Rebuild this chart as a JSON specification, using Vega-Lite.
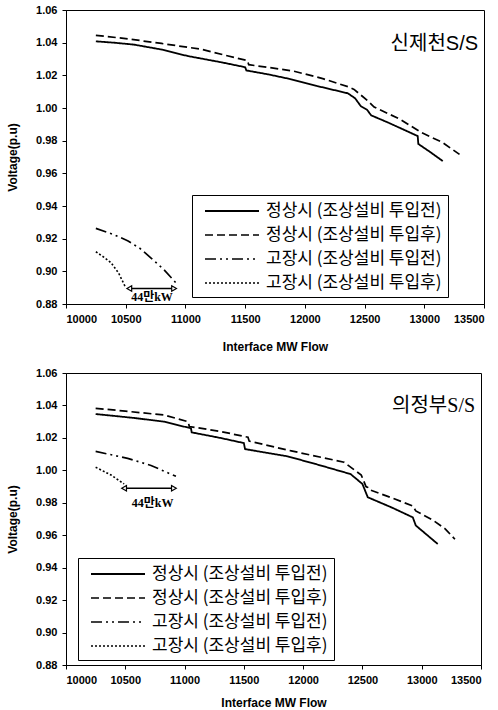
{
  "$schema": "https://vega.github.io/schema/vega-lite/v6.json",
  "padding": {"left": 6, "top": 3, "right": 5, "bottom": 3},
  "background": "white",
  "spacing": 13,
  "config": {
    "view": {"stroke": "black", "strokeWidth": 1},
    "axis": {"labelFont": "Liberation Sans", "labelFontWeight": "bold", "labelFontSize": 11, "titleFont": "Liberation Sans", "titleFontWeight": "bold", "titleFontSize": 12, "domainColor": "black", "tickColor": "black", "labelColor": "black", "titleColor": "black", "grid": false, "tickSize": 4, "labelPadding": 5, "labelOverlap": false},
    "legend": {"labelFont": "Noto Sans CJK KR", "labelFontSize": 17, "labelColor": "black", "symbolSize": 324, "symbolType": "M-3,0H3", "symbolStrokeColor": "black", "strokeColor": "black", "fillColor": "white", "padding": 6, "rowPadding": 6, "symbolOffset": 24, "labelOffset": 24, "labelLimit": 400, "labelExpr": "replace(datum.label, ' 투', '\u00a0\u00a0투')"}
  },
  "datasets": {
    "curves": [
      {"panel": "A", "series": "정상시 (조상설비 투입전)", "x": 10250, "y": 1.0408},
      {"panel": "A", "series": "정상시 (조상설비 투입전)", "x": 10400, "y": 1.0400},
      {"panel": "A", "series": "정상시 (조상설비 투입전)", "x": 10570, "y": 1.0388},
      {"panel": "A", "series": "정상시 (조상설비 투입전)", "x": 10800, "y": 1.0358},
      {"panel": "A", "series": "정상시 (조상설비 투입전)", "x": 11020, "y": 1.0318},
      {"panel": "A", "series": "정상시 (조상설비 투입전)", "x": 11300, "y": 1.0280},
      {"panel": "A", "series": "정상시 (조상설비 투입전)", "x": 11500, "y": 1.0250},
      {"panel": "A", "series": "정상시 (조상설비 투입전)", "x": 11510, "y": 1.0230},
      {"panel": "A", "series": "정상시 (조상설비 투입전)", "x": 11700, "y": 1.0205},
      {"panel": "A", "series": "정상시 (조상설비 투입전)", "x": 11885, "y": 1.0176},
      {"panel": "A", "series": "정상시 (조상설비 투입전)", "x": 12100, "y": 1.0135},
      {"panel": "A", "series": "정상시 (조상설비 투입전)", "x": 12360, "y": 1.0090},
      {"panel": "A", "series": "정상시 (조상설비 투입전)", "x": 12420, "y": 1.0060},
      {"panel": "A", "series": "정상시 (조상설비 투입전)", "x": 12470, "y": 1.0010},
      {"panel": "A", "series": "정상시 (조상설비 투입전)", "x": 12520, "y": 0.9990},
      {"panel": "A", "series": "정상시 (조상설비 투입전)", "x": 12555, "y": 0.9955},
      {"panel": "A", "series": "정상시 (조상설비 투입전)", "x": 12700, "y": 0.9910},
      {"panel": "A", "series": "정상시 (조상설비 투입전)", "x": 12945, "y": 0.9828},
      {"panel": "A", "series": "정상시 (조상설비 투입전)", "x": 12950, "y": 0.9780},
      {"panel": "A", "series": "정상시 (조상설비 투입전)", "x": 13050, "y": 0.9730},
      {"panel": "A", "series": "정상시 (조상설비 투입전)", "x": 13155, "y": 0.9675},
      {"panel": "A", "series": "정상시 (조상설비 투입후)", "x": 10250, "y": 1.0445},
      {"panel": "A", "series": "정상시 (조상설비 투입후)", "x": 10500, "y": 1.0425},
      {"panel": "A", "series": "정상시 (조상설비 투입후)", "x": 10800, "y": 1.0395},
      {"panel": "A", "series": "정상시 (조상설비 투입후)", "x": 11130, "y": 1.0360},
      {"panel": "A", "series": "정상시 (조상설비 투입후)", "x": 11350, "y": 1.0320},
      {"panel": "A", "series": "정상시 (조상설비 투입후)", "x": 11520, "y": 1.0290},
      {"panel": "A", "series": "정상시 (조상설비 투입후)", "x": 11530, "y": 1.0265},
      {"panel": "A", "series": "정상시 (조상설비 투입후)", "x": 11700, "y": 1.0248},
      {"panel": "A", "series": "정상시 (조상설비 투입후)", "x": 11910, "y": 1.0225},
      {"panel": "A", "series": "정상시 (조상설비 투입후)", "x": 12150, "y": 1.0180},
      {"panel": "A", "series": "정상시 (조상설비 투입후)", "x": 12370, "y": 1.0128},
      {"panel": "A", "series": "정상시 (조상설비 투입후)", "x": 12412, "y": 1.0114},
      {"panel": "A", "series": "정상시 (조상설비 투입후)", "x": 12528, "y": 1.0043},
      {"panel": "A", "series": "정상시 (조상설비 투입후)", "x": 12580, "y": 1.0006},
      {"panel": "A", "series": "정상시 (조상설비 투입후)", "x": 12800, "y": 0.9930},
      {"panel": "A", "series": "정상시 (조상설비 투입후)", "x": 12975, "y": 0.9850},
      {"panel": "A", "series": "정상시 (조상설비 투입후)", "x": 13150, "y": 0.9790},
      {"panel": "A", "series": "정상시 (조상설비 투입후)", "x": 13295, "y": 0.9716},
      {"panel": "A", "series": "고장시 (조상설비 투입전)", "x": 10250, "y": 0.9263},
      {"panel": "A", "series": "고장시 (조상설비 투입전)", "x": 10400, "y": 0.9225},
      {"panel": "A", "series": "고장시 (조상설비 투입전)", "x": 10520, "y": 0.9186},
      {"panel": "A", "series": "고장시 (조상설비 투입전)", "x": 10620, "y": 0.9140},
      {"panel": "A", "series": "고장시 (조상설비 투입전)", "x": 10710, "y": 0.9083},
      {"panel": "A", "series": "고장시 (조상설비 투입전)", "x": 10820, "y": 0.9010},
      {"panel": "A", "series": "고장시 (조상설비 투입전)", "x": 10920, "y": 0.8930},
      {"panel": "A", "series": "고장시 (조상설비 투입후)", "x": 10250, "y": 0.9120},
      {"panel": "A", "series": "고장시 (조상설비 투입후)", "x": 10320, "y": 0.9085},
      {"panel": "A", "series": "고장시 (조상설비 투입후)", "x": 10377, "y": 0.9053},
      {"panel": "A", "series": "고장시 (조상설비 투입후)", "x": 10440, "y": 0.8990},
      {"panel": "A", "series": "고장시 (조상설비 투입후)", "x": 10500, "y": 0.8900},
      {"panel": "B", "series": "정상시 (조상설비 투입전)", "x": 10250, "y": 1.0347},
      {"panel": "B", "series": "정상시 (조상설비 투입전)", "x": 10573, "y": 1.0323},
      {"panel": "B", "series": "정상시 (조상설비 투입전)", "x": 10826, "y": 1.0300},
      {"panel": "B", "series": "정상시 (조상설비 투입전)", "x": 11054, "y": 1.0259},
      {"panel": "B", "series": "정상시 (조상설비 투입전)", "x": 11060, "y": 1.0234},
      {"panel": "B", "series": "정상시 (조상설비 투입전)", "x": 11300, "y": 1.0200},
      {"panel": "B", "series": "정상시 (조상설비 투입전)", "x": 11500, "y": 1.0168},
      {"panel": "B", "series": "정상시 (조상설비 투입전)", "x": 11510, "y": 1.0131},
      {"panel": "B", "series": "정상시 (조상설비 투입전)", "x": 11870, "y": 1.0086},
      {"panel": "B", "series": "정상시 (조상설비 투입전)", "x": 12100, "y": 1.0040},
      {"panel": "B", "series": "정상시 (조상설비 투입전)", "x": 12400, "y": 0.9977},
      {"panel": "B", "series": "정상시 (조상설비 투입전)", "x": 12500, "y": 0.9916},
      {"panel": "B", "series": "정상시 (조상설비 투입전)", "x": 12545, "y": 0.9834},
      {"panel": "B", "series": "정상시 (조상설비 투입전)", "x": 12750, "y": 0.9770},
      {"panel": "B", "series": "정상시 (조상설비 투입전)", "x": 12925, "y": 0.9710},
      {"panel": "B", "series": "정상시 (조상설비 투입전)", "x": 12950, "y": 0.9660},
      {"panel": "B", "series": "정상시 (조상설비 투입전)", "x": 13135, "y": 0.9546},
      {"panel": "B", "series": "정상시 (조상설비 투입후)", "x": 10250, "y": 1.0382},
      {"panel": "B", "series": "정상시 (조상설비 투입후)", "x": 10500, "y": 1.0365},
      {"panel": "B", "series": "정상시 (조상설비 투입후)", "x": 10826, "y": 1.0341},
      {"panel": "B", "series": "정상시 (조상설비 투입후)", "x": 11030, "y": 1.0300},
      {"panel": "B", "series": "정상시 (조상설비 투입후)", "x": 11040, "y": 1.0270},
      {"panel": "B", "series": "정상시 (조상설비 투입후)", "x": 11300, "y": 1.0240},
      {"panel": "B", "series": "정상시 (조상설비 투입후)", "x": 11535, "y": 1.0204},
      {"panel": "B", "series": "정상시 (조상설비 투입후)", "x": 11545, "y": 1.0180},
      {"panel": "B", "series": "정상시 (조상설비 투입후)", "x": 11900, "y": 1.0120},
      {"panel": "B", "series": "정상시 (조상설비 투입후)", "x": 12345, "y": 1.0050},
      {"panel": "B", "series": "정상시 (조상설비 투입후)", "x": 12490, "y": 0.9971},
      {"panel": "B", "series": "정상시 (조상설비 투입후)", "x": 12530, "y": 0.9900},
      {"panel": "B", "series": "정상시 (조상설비 투입후)", "x": 12545, "y": 0.9895},
      {"panel": "B", "series": "정상시 (조상설비 투입후)", "x": 12560, "y": 0.9880},
      {"panel": "B", "series": "정상시 (조상설비 투입후)", "x": 12750, "y": 0.9830},
      {"panel": "B", "series": "정상시 (조상설비 투입후)", "x": 12925, "y": 0.9780},
      {"panel": "B", "series": "정상시 (조상설비 투입후)", "x": 12950, "y": 0.9750},
      {"panel": "B", "series": "정상시 (조상설비 투입후)", "x": 13100, "y": 0.9690},
      {"panel": "B", "series": "정상시 (조상설비 투입후)", "x": 13200, "y": 0.9638},
      {"panel": "B", "series": "정상시 (조상설비 투입후)", "x": 13280, "y": 0.9575},
      {"panel": "B", "series": "고장시 (조상설비 투입전)", "x": 10250, "y": 1.0117},
      {"panel": "B", "series": "고장시 (조상설비 투입전)", "x": 10520, "y": 1.0074},
      {"panel": "B", "series": "고장시 (조상설비 투입전)", "x": 10717, "y": 1.0030},
      {"panel": "B", "series": "고장시 (조상설비 투입전)", "x": 10927, "y": 0.9963},
      {"panel": "B", "series": "고장시 (조상설비 투입후)", "x": 10250, "y": 1.0019},
      {"panel": "B", "series": "고장시 (조상설비 투입후)", "x": 10380, "y": 0.9971},
      {"panel": "B", "series": "고장시 (조상설비 투입후)", "x": 10490, "y": 0.9916}
    ],
    "titles": [
      {"panel": "A", "x": 13450, "y": 1.039, "label": "신제천S/S"},
      {"panel": "B", "x": 13450, "y": 1.0395, "label": "의정부S/S"}
    ],
    "arrows": [
      {"panel": "A", "x1": 10530, "x2": 10905, "y": 0.8895, "ly": 0.8845, "lx": 10720, "label": "44만kW"},
      {"panel": "B", "x1": 10490, "x2": 10910, "y": 0.989, "ly": 0.980, "lx": 10730, "label": "44만kW"}
    ]
  },
  "vconcat": [
    {
      "width": 418, "height": 294,
      "layer": [
        {
          "data": {"name": "curves"},
          "transform": [{"filter": "datum.panel === 'A'"}],
          "mark": {"type": "line", "color": "black", "clip": true},
          "encoding": {
            "x": {"field": "x", "type": "quantitative", "scale": {"domain": [10000, 13500], "nice": false, "zero": false}, "axis": {"title": "Interface MW Flow", "values": [10000, 10500, 11000, 11500, 12000, 12500, 13000, 13500], "tickCount": 12, "format": "d", "titlePadding": 17, "labelOverlap": false}},
            "y": {"field": "y", "type": "quantitative", "scale": {"domain": [0.88, 1.06], "nice": false, "zero": false}, "axis": {"title": "Voltage(p.u)", "values": [0.88, 0.9, 0.92, 0.94, 0.96, 0.98, 1.0, 1.02, 1.04, 1.06], "tickCount": 12, "format": ".2f", "titlePadding": 16, "labelOverlap": false}},
            "detail": {"field": "series"},
            "strokeDash": {"field": "series", "type": "nominal", "scale": {"domain": ["정상시 (조상설비 투입전)", "정상시 (조상설비 투입후)", "고장시 (조상설비 투입전)", "고장시 (조상설비 투입후)"], "range": [[1, 0], [8, 4], [11, 4, 2, 4, 2, 4], [2, 2]]}, "legend": {"title": null, "orient": "none", "legendX": 126, "legendY": 185}},
            "strokeWidth": {"field": "series", "type": "nominal", "scale": {"domain": ["정상시 (조상설비 투입전)", "정상시 (조상설비 투입후)", "고장시 (조상설비 투입전)", "고장시 (조상설비 투입후)"], "range": [1.8, 1.6, 1.5, 1]}, "legend": {"title": null, "orient": "none", "legendX": 126, "legendY": 185}}
          }
        },
        {
          "data": {"name": "titles"},
          "transform": [{"filter": "datum.panel === 'A'"}],
          "mark": {"type": "text", "align": "right", "baseline": "middle", "font": "Liberation Sans, Noto Sans CJK KR", "fontSize": 20, "color": "black"},
          "encoding": {"x": {"field": "x", "type": "quantitative"}, "y": {"field": "y", "type": "quantitative"}, "text": {"field": "label"}}
        },
        {
          "data": {"name": "arrows"},
          "transform": [{"filter": "datum.panel === 'A'"}],
          "mark": {"type": "rule", "color": "black", "strokeWidth": 1.5},
          "encoding": {"x": {"field": "x1", "type": "quantitative"}, "x2": {"field": "x2"}, "y": {"field": "y", "type": "quantitative"}}
        },
        {
          "data": {"name": "arrows"},
          "transform": [{"filter": "datum.panel === 'A'"}],
          "mark": {"type": "point", "shape": "triangle-left", "filled": true, "fill": "white", "stroke": "black", "strokeWidth": 1.2, "size": 30, "opacity": 1},
          "encoding": {"x": {"field": "x1", "type": "quantitative"}, "y": {"field": "y", "type": "quantitative"}}
        },
        {
          "data": {"name": "arrows"},
          "transform": [{"filter": "datum.panel === 'A'"}],
          "mark": {"type": "point", "shape": "triangle-right", "filled": true, "fill": "white", "stroke": "black", "strokeWidth": 1.2, "size": 30, "opacity": 1},
          "encoding": {"x": {"field": "x2", "type": "quantitative"}, "y": {"field": "y", "type": "quantitative"}}
        },
        {
          "data": {"name": "arrows"},
          "transform": [{"filter": "datum.panel === 'A'"}],
          "mark": {"type": "text", "align": "center", "baseline": "middle", "font": "Liberation Serif, Noto Sans CJK KR", "fontSize": 12, "fontWeight": "bold", "color": "black"},
          "encoding": {"x": {"field": "lx", "type": "quantitative"}, "y": {"field": "ly", "type": "quantitative"}, "text": {"field": "label"}}
        }
      ]
    },
    {
      "width": 415, "height": 292,
      "layer": [
        {
          "data": {"name": "curves"},
          "transform": [{"filter": "datum.panel === 'B'"}],
          "mark": {"type": "line", "color": "black", "clip": true},
          "encoding": {
            "x": {"field": "x", "type": "quantitative", "scale": {"domain": [10000, 13500], "nice": false, "zero": false}, "axis": {"title": "Interface MW Flow", "values": [10000, 10500, 11000, 11500, 12000, 12500, 13000, 13500], "tickCount": 12, "format": "d", "titlePadding": 12, "labelOverlap": false}},
            "y": {"field": "y", "type": "quantitative", "scale": {"domain": [0.88, 1.06], "nice": false, "zero": false}, "axis": {"title": "Voltage(p.u)", "values": [0.88, 0.9, 0.92, 0.94, 0.96, 0.98, 1.0, 1.02, 1.04, 1.06], "tickCount": 12, "format": ".2f", "titlePadding": 16, "labelOverlap": false}},
            "detail": {"field": "series"},
            "strokeDash": {"field": "series", "type": "nominal", "scale": {"domain": ["정상시 (조상설비 투입전)", "정상시 (조상설비 투입후)", "고장시 (조상설비 투입전)", "고장시 (조상설비 투입후)"], "range": [[1, 0], [8, 4], [11, 4, 2, 4, 2, 4], [2, 2]]}, "legend": {"title": null, "orient": "none", "legendX": 12, "legendY": 185}},
            "strokeWidth": {"field": "series", "type": "nominal", "scale": {"domain": ["정상시 (조상설비 투입전)", "정상시 (조상설비 투입후)", "고장시 (조상설비 투입전)", "고장시 (조상설비 투입후)"], "range": [1.8, 1.6, 1.5, 1]}, "legend": {"title": null, "orient": "none", "legendX": 12, "legendY": 185}}
          }
        },
        {
          "data": {"name": "titles"},
          "transform": [{"filter": "datum.panel === 'B'"}],
          "mark": {"type": "text", "align": "right", "baseline": "middle", "font": "Liberation Serif, Noto Sans CJK KR", "fontSize": 20, "color": "black"},
          "encoding": {"x": {"field": "x", "type": "quantitative"}, "y": {"field": "y", "type": "quantitative"}, "text": {"field": "label"}}
        },
        {
          "data": {"name": "arrows"},
          "transform": [{"filter": "datum.panel === 'B'"}],
          "mark": {"type": "rule", "color": "black", "strokeWidth": 1.5},
          "encoding": {"x": {"field": "x1", "type": "quantitative"}, "x2": {"field": "x2"}, "y": {"field": "y", "type": "quantitative"}}
        },
        {
          "data": {"name": "arrows"},
          "transform": [{"filter": "datum.panel === 'B'"}],
          "mark": {"type": "point", "shape": "triangle-left", "filled": true, "fill": "white", "stroke": "black", "strokeWidth": 1.2, "size": 30, "opacity": 1},
          "encoding": {"x": {"field": "x1", "type": "quantitative"}, "y": {"field": "y", "type": "quantitative"}}
        },
        {
          "data": {"name": "arrows"},
          "transform": [{"filter": "datum.panel === 'B'"}],
          "mark": {"type": "point", "shape": "triangle-right", "filled": true, "fill": "white", "stroke": "black", "strokeWidth": 1.2, "size": 30, "opacity": 1},
          "encoding": {"x": {"field": "x2", "type": "quantitative"}, "y": {"field": "y", "type": "quantitative"}}
        },
        {
          "data": {"name": "arrows"},
          "transform": [{"filter": "datum.panel === 'B'"}],
          "mark": {"type": "text", "align": "center", "baseline": "middle", "font": "Liberation Serif, Noto Sans CJK KR", "fontSize": 12, "fontWeight": "bold", "color": "black"},
          "encoding": {"x": {"field": "lx", "type": "quantitative"}, "y": {"field": "ly", "type": "quantitative"}, "text": {"field": "label"}}
        }
      ]
    }
  ],
  "resolve": {"scale": {"strokeDash": "independent", "strokeWidth": "independent"}, "legend": {"strokeDash": "independent", "strokeWidth": "independent"}}
}
